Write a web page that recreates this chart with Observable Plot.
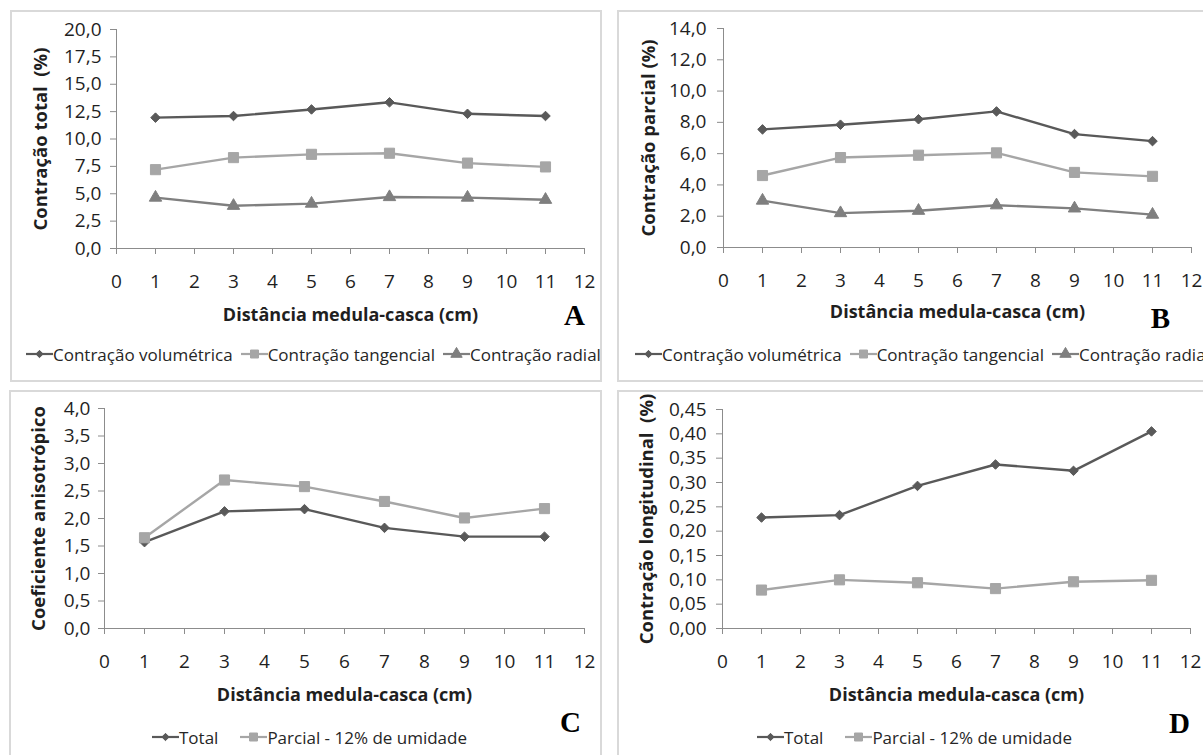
<!DOCTYPE html>
<html><head><meta charset="utf-8">
<script src="https://cdn.jsdelivr.net/npm/d3@7"></script>
<script src="https://cdn.jsdelivr.net/npm/@observablehq/plot@0.6"></script>
<style>
body{margin:0;background:#fff;width:1203px;height:755px;overflow:hidden;position:relative;font-family:"Open Sans",sans-serif;}
.panel{position:absolute;border:2px solid #d9d9d9;box-sizing:border-box;}
.chart{position:absolute;}
.legend{position:absolute;display:flex;align-items:center;font-size:17px;color:#262626;white-space:nowrap;height:22px;}
.legend .item{display:flex;align-items:center;}
.legend svg{display:block;}
</style></head><body>
<script>
// ---- data ----
const distancia = [1, 3, 5, 7, 9, 11];
const xTicks = [0,1,2,3,4,5,6,7,8,9,10,11,12];

// A – Contração total (%)
const totalVolumetrica = [11.95, 12.1, 12.7, 13.35, 12.3, 12.1];
const totalTangencial  = [7.2, 8.3, 8.6, 8.7, 7.8, 7.45];
const totalRadial      = [4.65, 3.9, 4.1, 4.7, 4.65, 4.45];
const ticksA = [0, 2.5, 5, 7.5, 10, 12.5, 15, 17.5, 20];

// B – Contração parcial (%)
const parcialVolumetrica = [7.55, 7.85, 8.2, 8.7, 7.25, 6.8];
const parcialTangencial  = [4.6, 5.75, 5.9, 6.05, 4.8, 4.55];
const parcialRadial      = [3.0, 2.2, 2.35, 2.7, 2.5, 2.1];
const ticksB = [0, 2, 4, 6, 8, 10, 12, 14];

// C – Coeficiente anisotrópico
const anisoTotal   = [1.57, 2.13, 2.17, 1.83, 1.67, 1.67];
const anisoParcial = [1.65, 2.7, 2.58, 2.31, 2.01, 2.18];
const ticksC = [0, 0.5, 1, 1.5, 2, 2.5, 3, 3.5, 4];

// D – Contração longitudinal (%)
const longTotal   = [0.228, 0.233, 0.293, 0.337, 0.324, 0.405];
const longParcial = [0.079, 0.100, 0.094, 0.082, 0.096, 0.099];
const ticksD = [0, 0.05, 0.10, 0.15, 0.20, 0.25, 0.30, 0.35, 0.40, 0.45];

const xTitle = "Distância medula-casca (cm)";
const names3 = ["Contração volumétrica", "Contração tangencial", "Contração radial"];
const names2 = ["Total", "Parcial - 12% de umidade"];

// ---- styles ----
const S = {
  dark:  {color: "#595959", symbol: "diamond2", r: 4.3},
  light: {color: "#a6a6a6", symbol: "square", r: 5.7},
  mid:   {color: "#7f7f7f", symbol: "triangle", r: 4.6}
};
const axisColor = "#8c8c8c";
const textColor = "#1f1f1f";

function rows(name, values, style) {
  return distancia.map((x, i) => ({name, x, y: values[i], style}));
}

function makeChart(cfg) {
  const W = 590, H = 330;
  const series = cfg.series;
  const marks = [
    Plot.ruleY([cfg.yDomain[0]], {stroke: axisColor, strokeWidth: 1}),
    Plot.ruleX([0], {stroke: axisColor, strokeWidth: 1}),
    Plot.axisX({ticks: xTicks, tickSize: 6, tickPadding: 20, fontSize: 19, stroke: axisColor, fill: textColor, label: null, tickFormat: d => String(d)}),
    Plot.axisY({ticks: cfg.yTicks, tickSize: 6, tickPadding: cfg.yPad, fontSize: 19, stroke: axisColor, fill: textColor, label: null, tickFormat: cfg.fmt})
  ];
  for (const s of series) {
    const data = rows(s.name, s.values, s.style);
    marks.push(Plot.line(data, {x: "x", y: "y", stroke: s.style.color, strokeWidth: 2.4}));
    marks.push(Plot.dot(data, {x: "x", y: "y", symbol: s.style.symbol, r: s.style.r, fill: s.style.color, stroke: s.style.color, strokeWidth: 1}));
  }
  marks.push(Plot.text([xTitle], {frameAnchor: "bottom", dy: cfg.titleDy, fontWeight: "bold", fontSize: 18, fill: textColor, lineAnchor: "middle", textAnchor: "middle"}));
  marks.push(Plot.text([cfg.yTitle], {frameAnchor: "left", rotate: -90, dx: cfg.yTitleDx, fontWeight: "bold", fontSize: 18.5, fill: textColor, lineAnchor: "middle", textAnchor: "middle"}));
  marks.push(Plot.text([cfg.letter], {frameAnchor: "bottom-right", dx: cfg.letterDx, dy: cfg.letterDy, fontFamily: "Liberation Serif", fontWeight: "bold", fontSize: 29, fill: "#000", lineAnchor: "middle", textAnchor: "middle"}));

  const plotH = cfg.plotH;
  const svg = Plot.plot({
    width: W, height: H,
    marginLeft: cfg.ml, marginRight: W - cfg.ml - cfg.plotW,
    marginTop: cfg.mt, marginBottom: H - cfg.mt - plotH,
    x: {domain: [0, 12]},
    y: {domain: cfg.yDomain},
    style: {fontFamily: "Open Sans", fontSize: "17px", background: "transparent", overflow: "visible"},
    marks
  });
  const wrap = document.createElement("div");
  wrap.className = "chart";
  wrap.style.left = cfg.left + "px";
  wrap.style.top = cfg.top + "px";
  wrap.style.width = W + "px";
  wrap.appendChild(svg);
  document.body.appendChild(wrap);
}

function swatch(style) {
  const ns = "http://www.w3.org/2000/svg";
  const svg = document.createElementNS(ns, "svg");
  svg.setAttribute("width", 27); svg.setAttribute("height", 14);
  const line = document.createElementNS(ns, "line");
  line.setAttribute("x1", 0); line.setAttribute("x2", 27);
  line.setAttribute("y1", 7); line.setAttribute("y2", 7);
  line.setAttribute("stroke", style.color); line.setAttribute("stroke-width", 2.2);
  svg.appendChild(line);
  const p = document.createElementNS(ns, "path");
  const sym = {diamond2: d3.symbolDiamond2, square: d3.symbolSquare, triangle: d3.symbolTriangle}[style.symbol];
  const size = {diamond2: 34, square: 64, triangle: 56}[style.symbol];
  p.setAttribute("d", d3.symbol(sym, size)());
  p.setAttribute("transform", "translate(13.5,7)");
  p.setAttribute("fill", style.color); p.setAttribute("stroke", style.color);
  svg.appendChild(p);
  return svg;
}

function legend(items, left, top, gap) {
  const div = document.createElement("div");
  div.className = "legend";
  div.style.left = left + "px"; div.style.top = top + "px";
  div.style.gap = gap + "px";
  for (const it of items) {
    const item = document.createElement("div");
    item.className = "item";
    item.appendChild(swatch(it.style));
    const t = document.createElement("span");
    t.textContent = it.name;
    item.appendChild(t);
    div.appendChild(item);
  }
  document.body.appendChild(div);
}

function panelBox(left, top, width, height) {
  const d = document.createElement("div");
  d.className = "panel";
  Object.assign(d.style, {left: left + "px", top: top + "px", width: width + "px", height: height + "px"});
  document.body.appendChild(d);
}

panelBox(10, 10, 592, 372);
panelBox(617, 10, 620, 372);
panelBox(9, 390, 593, 420);
panelBox(617, 390, 620, 420);

const fmt1 = d => d.toFixed(1).replace(".", ",");
const fmt2 = d => d.toFixed(2).replace(".", ",");

// A
makeChart({left: 11, top: 11, ml: 105, mt: 18, plotW: 468, plotH: 219, yDomain: [0, 20], yTicks: ticksA, fmt: fmt1, yPad: 9,
  yTitle: "Contração total\u00a0 (%)", yTitleDx: -75, titleDy: 67, letter: "A", letterDx: -10, letterDy: 67,
  series: [
    {name: names3[0], values: totalVolumetrica, style: S.dark},
    {name: names3[1], values: totalTangencial, style: S.light},
    {name: names3[2], values: totalRadial, style: S.mid}
  ]});
legend([{name: names3[0], style: S.dark}, {name: names3[1], style: S.light}, {name: names3[2], style: S.mid}], 26, 343, 8);

// B
makeChart({left: 618, top: 11, ml: 105, mt: 17, plotW: 468, plotH: 219, yDomain: [0, 14], yTicks: ticksB, fmt: fmt1, yPad: 11,
  yTitle: "Contração parcial (%)", yTitleDx: -74, titleDy: 65, letter: "B", letterDx: -31, letterDy: 71,
  series: [
    {name: names3[0], values: parcialVolumetrica, style: S.dark},
    {name: names3[1], values: parcialTangencial, style: S.light},
    {name: names3[2], values: parcialRadial, style: S.mid}
  ]});
legend([{name: names3[0], style: S.dark}, {name: names3[1], style: S.light}, {name: names3[2], style: S.mid}], 635, 343, 8);

// C
makeChart({left: 11, top: 391, ml: 93, mt: 17, plotW: 480, plotH: 220, yDomain: [0, 4], yTicks: ticksC, fmt: fmt1, yPad: 8,
  yTitle: "Coeficiente anisotrópico", yTitleDx: -65, titleDy: 67, letter: "C", letterDx: -14, letterDy: 94,
  series: [
    {name: names2[0], values: anisoTotal, style: S.dark},
    {name: names2[1], values: anisoParcial, style: S.light}
  ]});
legend([{name: names2[0], style: S.dark}, {name: names2[1], style: S.light}], 152, 726, 22);

// D
makeChart({left: 618, top: 391, ml: 104, mt: 18, plotW: 468, plotH: 219, yDomain: [0, 0.45], yTicks: ticksD, fmt: fmt2, yPad: 10,
  yTitle: "Contração longitudinal\u00a0 (%)", yTitleDx: -75, titleDy: 67, letter: "D", letterDx: -11, letterDy: 95,
  series: [
    {name: names2[0], values: longTotal, style: S.dark},
    {name: names2[1], values: longParcial, style: S.light}
  ]});
legend([{name: names2[0], style: S.dark}, {name: names2[1], style: S.light}], 757, 726, 22);
</script>
</body></html>
